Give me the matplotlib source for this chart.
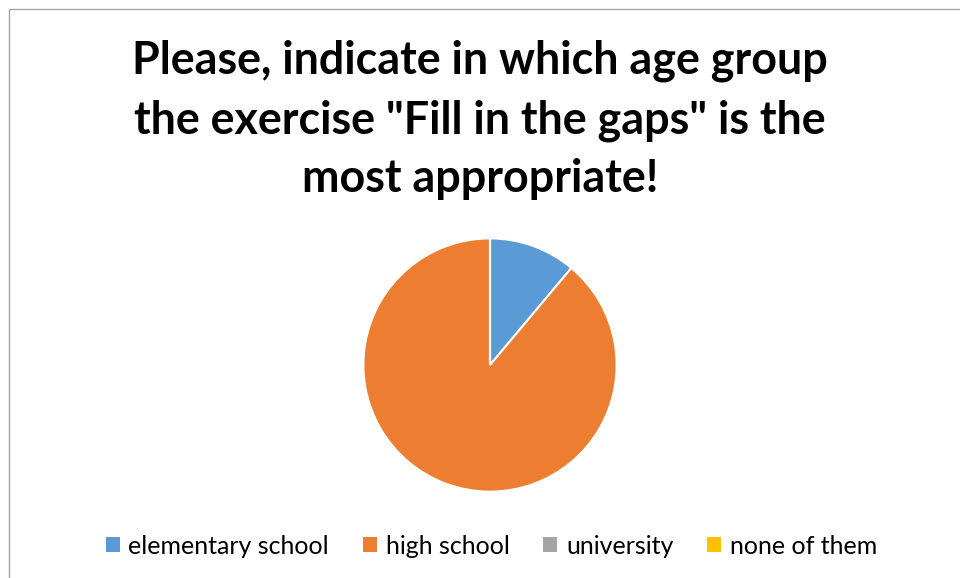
import matplotlib
matplotlib.use("Agg")
import matplotlib.pyplot as plt
from matplotlib.patches import Rectangle, Patch

categories = ["elementary school", "high school", "university", "none of them"]
values = [1, 8, 0, 0]
colors = ["#5B9BD5", "#ED7D31", "#A5A5A5", "#FFC000"]
title = 'Please, indicate in which age group\nthe exercise "Fill in the gaps" is the\nmost appropriate!'

W, H = 960, 578
fig = plt.figure(figsize=(W / 100, H / 100), dpi=100)
fig.patch.set_facecolor("white")

# chart border
fig.patches.append(Rectangle((9 / W, -0.05), 1.2, 1 - 9 / H + 0.05, transform=fig.transFigure,
                             fill=False, edgecolor="#A6A6A6", linewidth=1.0))

fig.text(0.5, 1 - 120 / H, title, ha="center", va="center", fontsize=32.3,
         fontweight="bold", family="Lato", linespacing=1.5, color="black")

ax = fig.add_axes([364 / W, (H - 491) / H, 252 / W, 252 / H])
ax.pie(values, colors=colors, startangle=90, counterclock=False,
       wedgeprops=dict(edgecolor="white", linewidth=1.5))
ax.set_xlim(-0.995, 0.995)
ax.set_ylim(-0.995, 0.995)
ax.set_aspect("equal")
ax.axis("off")

handles = [Patch(facecolor=c, edgecolor="none") for c in colors]
fig.legend(handles, categories, loc="center", bbox_to_anchor=(491.5 / W, 1 - 546 / H), ncol=4,
           frameon=False, prop=dict(family="Lato", size=18), handlelength=0.55, handleheight=0.55,
           handletextpad=0.35, columnspacing=1.36)

fig.savefig("out.png", dpi=100, facecolor="white")
